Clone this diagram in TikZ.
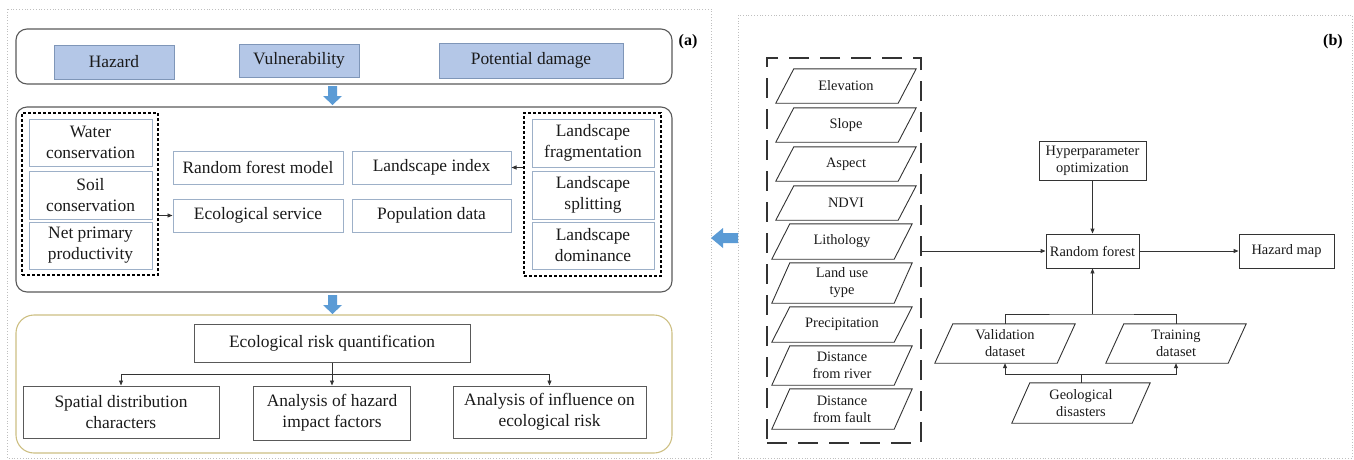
\documentclass[tikz,border=0pt]{standalone}
\usepackage{fontspec}
\setmainfont{Liberation Serif}
\usetikzlibrary{arrows.meta}
\definecolor{bfill}{HTML}{B4C7E7}
\definecolor{bline}{HTML}{7F96B8}
\definecolor{ablue}{HTML}{5B9BD5}
\definecolor{ibox}{HTML}{9DB0C8}
\definecolor{rline}{HTML}{595959}
\definecolor{dline}{HTML}{333333}
\definecolor{gold}{HTML}{CDBF82}
\definecolor{dotg}{HTML}{BFBFBF}
\definecolor{txt}{HTML}{1A1A1A}
\newcommand\fa{\fontsize{17.4}{21}\selectfont}
\newcommand\fb{\fontsize{14.4}{17}\selectfont}
\begin{document}
\begin{tikzpicture}[x=1pt,y=-1pt,
  every node/.style={inner sep=0pt, align=center, text=txt},
  bluebox/.style={draw=bline, fill=bfill, line width=0.9pt, font=\fa},
  rbox/.style={draw=rline, line width=1.1pt, rounded corners=11pt},
  ibx/.style={draw=ibox, line width=1pt, font=\fa},
  dbox/.style={draw=black, line width=1.2pt, dash pattern=on 3pt off 2pt},
  pbox/.style={draw=rline, line width=1pt, font=\fa},
  bbox/.style={draw=dline, line width=0.9pt, font=\fb},
  para/.style={font=\fb},
  conn/.style={draw=dline, line width=0.9pt},
  arr/.style={conn, -{Triangle[length=5pt,width=4pt]}},
  label/.style={font=\fontsize{16}{18}\selectfont\bfseries, text=black}
]
\useasboundingbox (0,0) rectangle (1354,459);
% panel frames
\draw[dotg, dotted, line width=0.8pt] (7,9) rectangle (711,458);
\draw[dotg, dotted, line width=0.8pt] (738,15) rectangle (1352,458);
\node[label] (la) at (688,42) {(a)};
\node[label] (lb) at (1333,42) {(b)};

% ---------- panel (a)
\node[rbox, minimum width=656pt, minimum height=55pt] (top) at (344,56.5) {};
\node[bluebox, minimum width=120pt, minimum height=34pt] (haz) at (114,62) {Hazard};
\node[bluebox, minimum width=120pt, minimum height=33pt] (vul) at (299,60.5) {Vulnerability};
\node[bluebox, minimum width=184pt, minimum height=35pt] (pot) at (531,60.5) {Potential damage};

\fill[ablue] (328,86) -- (337,86) -- (337,96) -- (342,96) -- (332.5,105) -- (323,96) -- (328,96) -- cycle;

\node[rbox, minimum width=656pt, minimum height=185pt] (mid) at (344,199.5) {};
\node[dbox, minimum width=136pt, minimum height=162pt] (ld) at (90,194) {};
\node[ibx, minimum width=123pt, minimum height=47pt] (wat) at (90.5,142.5) {Water\\conservation};
\node[ibx, minimum width=123pt, minimum height=48pt] (soi) at (90.5,195) {Soil\\conservation};
\node[ibx, minimum width=123pt, minimum height=47pt] (npp) at (90.5,245.5) {Net primary\\productivity};
\node[ibx, minimum width=170pt, minimum height=33pt] (rfm) at (258,167.5) {Random forest model};
\node[ibx, minimum width=170pt, minimum height=33pt] (eco) at (258,215.5) {Ecological service};
\node[ibx, minimum width=159pt, minimum height=33pt] (lix) at (431.5,167.5) {Landscape index};
\node[ibx, minimum width=159pt, minimum height=33pt] (pop) at (431.5,215.5) {Population data};
\node[dbox, minimum width=137pt, minimum height=163pt] (rd) at (592.5,194.5) {};
\node[ibx, minimum width=122pt, minimum height=48pt] (fra) at (593,143) {Landscape\\fragmentation};
\node[ibx, minimum width=122pt, minimum height=48pt] (spl) at (593,195) {Landscape\\splitting};
\node[ibx, minimum width=122pt, minimum height=47pt] (dom) at (593,245.5) {Landscape\\dominance};
\draw[arr] (ld.east |- eco.west) -- (eco.west);
\draw[arr] (rd.west |- lix.east) -- (lix.east);

\fill[ablue] (328,295) -- (337,295) -- (337,305) -- (342,305) -- (332.5,314) -- (323,305) -- (328,305) -- cycle;

\node[draw=gold, line width=1.1pt, rounded corners=18pt, minimum width=656pt, minimum height=138pt] (bot) at (344,384) {};
\node[pbox, minimum width=276pt, minimum height=38pt] (erq) at (332,343) {Ecological risk quantification};
\node[pbox, minimum width=196pt, minimum height=52pt] (sdc) at (121,412) {Spatial distribution\\characters};
\node[pbox, minimum width=157pt, minimum height=54pt] (ahi) at (332,413) {Analysis of hazard\\impact factors};
\node[pbox, minimum width=193pt, minimum height=52pt] (aie) at (549.5,412) {Analysis of influence on\\ecological risk};
\coordinate (bj) at (332,374);
\draw[arr] (erq.south) -- (ahi.north);
\draw[arr] (bj) -| (sdc.north);
\draw[arr] (bj) -| (aie.north);

% arrow between panels
\fill[ablue] (738,233) -- (723,233) -- (723,228) -- (711,238) -- (723,248) -- (723,243) -- (738,243) -- cycle;

% ---------- panel (b)
\node[draw=dline, line width=1.3pt, dash pattern=on 20pt off 11pt, minimum width=154pt, minimum height=385pt] (fb) at (844,250.5) {};
\node[para, minimum width=122pt, minimum height=34pt] (el) at (846,86) {Elevation};
\node[para, minimum width=122pt, minimum height=34pt] (sl) at (846,125) {Slope};
\node[para, minimum width=122pt, minimum height=34pt] (as) at (846,164) {Aspect};
\node[para, minimum width=122pt, minimum height=34pt] (nd) at (846,203) {NDVI};
\node[para, minimum width=122pt, minimum height=35pt] (li) at (842,241.5) {Lithology};
\node[para, minimum width=122pt, minimum height=40pt] (lu) at (842,283) {Land use\\type};
\node[para, minimum width=122pt, minimum height=35pt] (pr) at (842,324.5) {Precipitation};
\node[para, minimum width=122pt, minimum height=39pt] (dr) at (842,365.5) {Distance\\from river};
\node[para, minimum width=122pt, minimum height=40pt] (df) at (842,409) {Distance\\from fault};
\node[para, minimum width=122pt, minimum height=39pt] (val) at (1005,343.5) {Validation\\dataset};
\node[para, minimum width=122pt, minimum height=39pt] (tra) at (1176,343.5) {Training\\dataset};
\node[para, minimum width=120pt, minimum height=40pt] (geo) at (1081,403) {Geological\\disasters};
\foreach \n in {el,sl,as,nd,li,lu,pr,dr,df,val,tra,geo}
  \draw[draw=dline, line width=0.9pt] ([xshift=-9pt]\n.south west) -- ([xshift=-9pt]\n.south east)
     -- ([xshift=9pt]\n.north east) -- ([xshift=9pt]\n.north west) -- cycle;

\node[bbox, minimum width=93pt, minimum height=34pt] (rf) at (1092.5,251) {Random forest};
\node[bbox, minimum width=95pt, minimum height=34pt] (hm) at (1286.5,251) {Hazard map};
\node[bbox, minimum width=107pt, minimum height=39pt] (hyp) at (1092.5,160.5) {Hyperparameter\\optimization};

\draw[arr] (fb.east |- rf.west) -- (rf.west);
\draw[arr] (rf.east) -- (hm.west);
\draw[arr] (hyp.south) -- (rf.north);
\coordinate (tj) at (1092.5,314);
\draw[conn] (val.north) |- (tj) -| (tra.north);
\draw[arr] (tj) -- (rf.south);
\coordinate (gj) at (1081,374);
\draw[conn] (geo.north) -- (gj);
\draw[arr] (gj) -| (val.south);
\draw[arr] (gj) -| (tra.south);
\end{tikzpicture}
\end{document}
